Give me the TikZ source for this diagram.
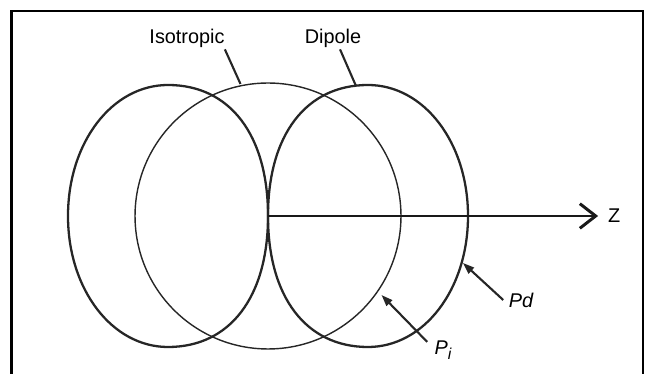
\documentclass[tikz,border=0pt]{standalone}
\usepackage{fontspec}
\setmainfont{Liberation Sans}
\usetikzlibrary{arrows.meta}
\begin{document}
\begin{tikzpicture}[
    x=0.02cm, y=-0.02cm,
    every node/.style={font=\fontsize{11.3}{13}\selectfont, inner sep=1pt},
    lobe/.style={line width=1.3pt, black!85},
    isoline/.style={line width=0.8pt, black!85},
    leader/.style={line width=1.2pt, black!85},
    pointer/.style={leader, -{Triangle[length=6.5pt, width=4.5pt]}},
    axis/.style={line width=1.7pt, black!90, -{Straight Barb[length=9pt, width=14pt]}}
  ]
  \useasboundingbox (0,0) rectangle (645,374);
  % frame, open at the bottom
  \draw[line width=1.6pt] (11.5,400) -- (11.5,11) -- (643,11) -- (643,400);

  % labels
  \node (iso) at (187,38) {Isotropic};
  \node (dip) at (333,38) {Dipole};
  \node (zl) [anchor=west] at (606,216) {Z};
  \node (pd) at (521,300) {\itshape Pd};
  \node (pi) at (443,350) {\itshape P\raisebox{-3pt}{\small i}};

  % points on the patterns
  \coordinate (o) at (268,216);
  \coordinate (isotop) at (240.5,84);
  \coordinate (diptop) at (356,86);
  \coordinate (pdtip) at (463,263);
  \coordinate (pitip) at (381.5,295);

  % isotropic pattern
  \draw[isoline] (o) circle[radius=2.66cm];

  % dipole pattern, two lobes meeting at the origin
  \draw[lobe] (o) .. controls (268,135) and (306,85) .. (368,85)
    .. controls (424,85) and (468,142.6) .. (468,216)
    .. controls (468,289.4) and (424,347) .. (368,347)
    .. controls (306,347) and (268,297) .. (o);
  \draw[lobe] (o) .. controls (268,135) and (230,85) .. (168,85)
    .. controls (112,85) and (68,142.6) .. (68,216)
    .. controls (68,289.4) and (112,347) .. (168,347)
    .. controls (230,347) and (268,297) .. (o);

  % z axis
  \draw[axis, shorten >=4.5pt] (o) -- (zl.west);

  % leaders
  \draw[leader] ([xshift=-1pt]iso.south east) -- (isotop);
  \draw[leader] ([xshift=4pt]dip.south) -- (diptop);
  \draw[pointer] ([xshift=-2pt]pd.west) -- (pdtip);
  \draw[pointer] ([xshift=-3pt,yshift=-2pt]pi.north west) -- (pitip);
\end{tikzpicture}
\end{document}
